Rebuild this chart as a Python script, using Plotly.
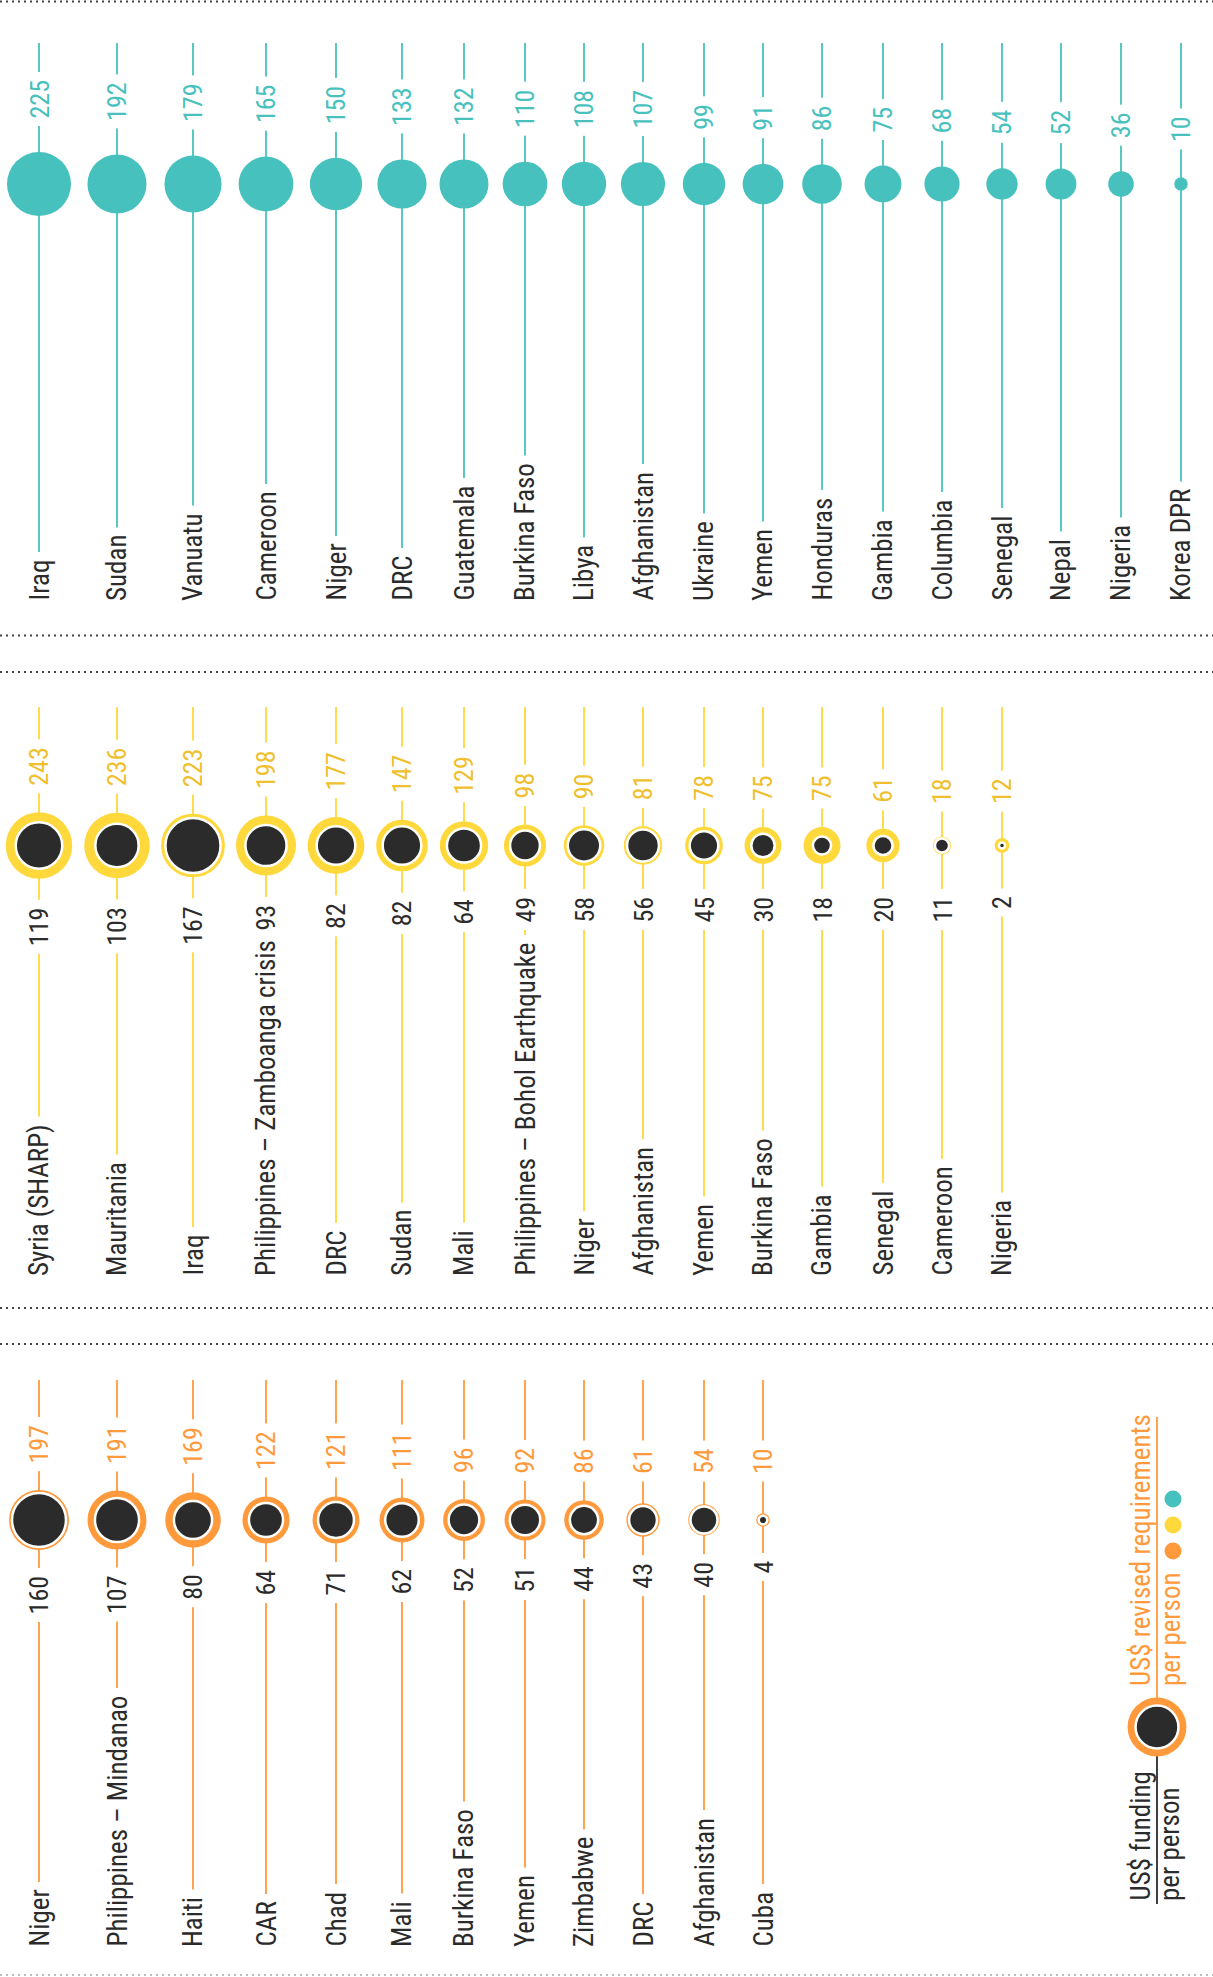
import math
import plotly.graph_objects as go

# ---------------- data ----------------
teal_countries = ["Iraq", "Sudan", "Vanuatu", "Cameroon", "Niger", "DRC", "Guatemala",
                  "Burkina Faso", "Libya", "Afghanistan", "Ukraine", "Yemen", "Honduras",
                  "Gambia", "Columbia", "Senegal", "Nepal", "Nigeria", "Korea DPR"]
teal_req = [225, 192, 179, 165, 150, 133, 132, 110, 108, 107, 99, 91, 86, 75, 68, 54, 52, 36, 10]

yellow_countries = ["Syria (SHARP)", "Mauritania", "Iraq", "Philippines – Zamboanga crisis",
                    "DRC", "Sudan", "Mali", "Philippines – Bohol Earthquake", "Niger",
                    "Afghanistan", "Yemen", "Burkina Faso", "Gambia", "Senegal",
                    "Cameroon", "Nigeria"]
yellow_req = [243, 236, 223, 198, 177, 147, 129, 98, 90, 81, 78, 75, 75, 61, 18, 12]
yellow_fund = [119, 103, 167, 93, 82, 82, 64, 49, 58, 56, 45, 30, 18, 20, 11, 2]

orange_countries = ["Niger", "Philippines – Mindanao", "Haiti", "CAR", "Chad", "Mali",
                    "Burkina Faso", "Yemen", "Zimbabwe", "DRC", "Afghanistan", "Cuba"]
orange_req = [197, 191, 169, 122, 121, 111, 96, 92, 86, 61, 54, 10]
orange_fund = [160, 107, 80, 64, 71, 62, 52, 51, 44, 43, 40, 4]

legend_req_sample = 191
legend_fund_sample = 101

# ---------------- layout / style ----------------
W, H = 1213, 1977
FONT = "Liberation Sans Narrow, Arial Narrow, Roboto Condensed, DejaVu Sans Condensed, Roboto, sans-serif"
TXT = 27
NUM = 26
PAD = 7
DARK = "#2b2b2b"
TEAL = "#47c1bd"
YEL = "#ffd83b"
YEL_TXT = "#efbf2e"
ORA = "#ff9a3c"

COL_X = [39, 117, 193, 266, 336, 402, 464, 525, 584, 643, 704, 763, 822, 883, 942, 1002, 1061, 1121, 1181]
SCALE = 64 / 15.0  # marker diameter per sqrt(US$)


def dia(v):
    return SCALE * math.sqrt(v)


fig = go.Figure()
annotations = []


def ann(x, y, text, color, size, yanchor, bg=True):
    d = dict(x=x, y=y, xref="x", yref="y", text=text, showarrow=False, textangle=-90,
             xanchor="center", yanchor=yanchor,
             font=dict(family=FONT, size=size, color=color))
    if bg:
        d.update(bgcolor="white", borderpad=PAD)
    annotations.append(d)


def panel(countries, req, fund, color, txtcolor, top, center, bottom,
          gap_up, min_up, gap_dn, min_dn):
    n = len(countries)
    xs = COL_X[:n]
    lx, ly = [], []
    for x in xs:
        lx += [x, x, None]
        ly += [top, bottom - 20, None]
    fig.add_trace(go.Scatter(x=lx, y=ly, mode="lines", line=dict(color=color, width=1.8),
                             hoverinfo="skip"))
    fig.add_trace(go.Scatter(x=xs, y=[center] * n, mode="markers",
                             marker=dict(size=[dia(v) for v in req], color=color, opacity=1,
                                         line=dict(width=0)),
                             hoverinfo="skip"))
    if fund is not None:
        fig.add_trace(go.Scatter(x=xs, y=[center] * n, mode="markers",
                                 marker=dict(size=[dia(v) for v in fund], color=DARK, opacity=1,
                                             line=dict(width=2.5, color="white")),
                                 hoverinfo="skip"))
    for i, x in enumerate(xs):
        r = dia(req[i]) / 2
        ann(x, center - max(r, min_up) - gap_up + PAD, str(req[i]), txtcolor, NUM, "bottom")
        if fund is not None:
            ann(x, center + max(r, min_dn) + gap_dn - PAD, str(fund[i]), DARK, NUM, "top")
        ann(x, bottom + PAD, countries[i], DARK, TXT, "bottom")


panel(teal_countries, teal_req, None, TEAL, TEAL, 43, 184, 602, 32, 9, 0, 0)
panel(yellow_countries, yellow_req, yellow_fund, YEL, YEL_TXT, 707, 845.5, 1277, 25, 15.5, 28, 22)
panel(orange_countries, orange_req, orange_fund, ORA, ORA, 1380, 1520, 1948, 25, 20, 25, 15)

# ---------------- legend ----------------
LX, LY = 1157, 1727
fig.add_trace(go.Scatter(x=[LX, LX], y=[1417, LY], mode="lines",
                         line=dict(color=ORA, width=1.8), hoverinfo="skip"))
fig.add_trace(go.Scatter(x=[LX, LX], y=[LY, 1904], mode="lines",
                         line=dict(color=DARK, width=1.8), hoverinfo="skip"))
fig.add_trace(go.Scatter(x=[LX], y=[LY], mode="markers",
                         marker=dict(size=dia(legend_req_sample), color=ORA, opacity=1,
                                     line=dict(width=0)),
                         hoverinfo="skip"))
fig.add_trace(go.Scatter(x=[LX], y=[LY], mode="markers",
                         marker=dict(size=dia(legend_fund_sample), color=DARK, opacity=1,
                                     line=dict(width=2.5, color="white")),
                         hoverinfo="skip"))
fig.add_trace(go.Scatter(x=[1173, 1173, 1173], y=[1499, 1525, 1551], mode="markers",
                         marker=dict(size=17, color=[TEAL, YEL, ORA], opacity=1,
                                     line=dict(width=0)),
                         hoverinfo="skip"))
ann(1141, 1688, "US$ revised requirements", ORA, TXT, "bottom", bg=False)
ann(1171, 1688, "per person", ORA, TXT, "bottom", bg=False)
ann(1140, 1903, "US$ funding", DARK, TXT, "bottom", bg=False)
ann(1170, 1903, "per person", DARK, TXT, "bottom", bg=False)

# ---------------- separators ----------------
shapes = []
for yy, col in [(1.5, "#444444"), (635.5, "#444444"), (672, "#444444"),
                (1308, "#444444"), (1344, "#444444"), (1975, "#bbbbbb")]:
    shapes.append(dict(type="line", xref="paper", yref="y", x0=0, x1=1, y0=yy, y1=yy,
                       line=dict(color=col, width=2, dash="2px,4px")))

fig.update_layout(
    width=W, height=H, margin=dict(l=0, r=0, t=0, b=0),
    paper_bgcolor="white", plot_bgcolor="white", showlegend=False,
    xaxis=dict(range=[0, W], visible=False, fixedrange=True),
    yaxis=dict(range=[H, 0], visible=False, fixedrange=True),
    annotations=annotations, shapes=shapes,
)
fig.write_html("out.html", config={"displayModeBar": False},
               post_script="document.body.style.margin='0';document.body.style.overflow='hidden';")
